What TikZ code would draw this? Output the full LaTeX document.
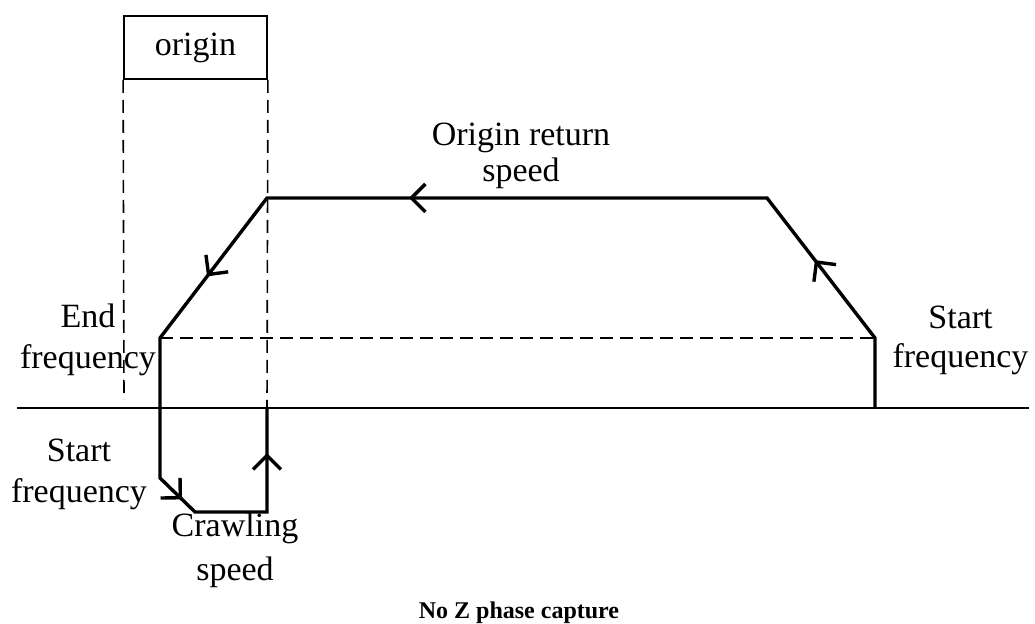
\documentclass[tikz,border=0pt]{standalone}
\usepackage{fontspec}
\setmainfont{Liberation Serif}
\usetikzlibrary{arrows.meta,decorations.markings}
\begin{document}
\begin{tikzpicture}[
x=0.5pt, y=-0.5pt,
font=\fontsize{17}{20.5}\selectfont,
route/.style={line width=1.7pt, line join=miter},
guide/.style={line width=0.8pt, dash pattern=on 6.5pt off 3.5pt},
note/.style={align=center, inner sep=0pt, anchor=base},
flow/.style={postaction={decorate}, decoration={markings,
  mark=at position #1 with {\arrow{Straight Barb[length=7pt,width=14pt]}}}}
]
\useasboundingbox (0,0) rectangle (1035,624);
% corners of the speed curve
\coordinate (A) at (875,408);
\coordinate (B) at (875,338);
\coordinate (C) at (767,198);
\coordinate (D) at (267,198);
\coordinate (E) at (160,338);
\coordinate (F) at (160,478);
\coordinate (G) at (195,512);
\coordinate (H) at (267,512);
\coordinate (I) at (267,408);
\coordinate (axL) at (17,408);
\coordinate (axR) at (1029,408);
\coordinate (lowL) at (124,400);
% origin box and guides
\node[draw, line width=0.9pt, minimum width=71.5pt, minimum height=31.5pt] (box) at (195.5,47.5) {origin};
\draw[guide] (box.south west) -- (lowL);
\draw[guide] (box.south east) -- (I);
\draw[guide] (E) -- (B);
\draw[line width=0.9pt] (axL) -- (axR);
% speed curve
\draw[route] (A) -- (B) -- (C) -- (D) -- (E) -- (F) -- (G) -- (H) -- (I);
\path[route, flow=0.556] (B) -- (C);
\path[route, flow=0.716] (C) -- (D);
\path[route, flow=0.56] (D) -- (E);
\path[route, flow=0.63] (F) -- (G);
\path[route, flow=0.567] (H) -- (I);
% labels
\node[note, font=\fontsize{17}{18}\selectfont] (ret) at (521,182) {Origin return\\speed};
\node[note] (endf) at (88,369) {End\\frequency};
\node[note, font=\fontsize{17}{19.5}\selectfont] (startR) at (960.5,368) {Start\\frequency};
\node[note] (startL) at (79,503) {Start\\frequency};
\node[note, font=\fontsize{17}{22}\selectfont] (crawl) at (235,581) {Crawling\\speed};
\node[note, font=\fontsize{12}{14}\selectfont\bfseries] (cap) at (519,619) {No Z phase capture};
\end{tikzpicture}
\end{document}
